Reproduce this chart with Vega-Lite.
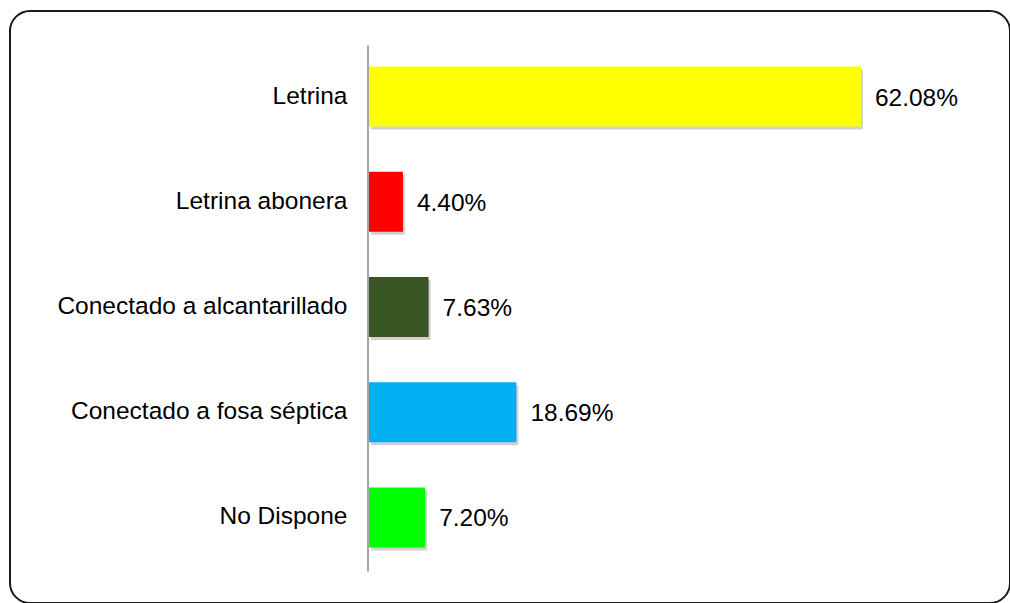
{
  "$schema": "https://vega.github.io/schema/vega-lite/v6.json",
  "width": 1000,
  "height": 592,
  "padding": {"left": 10, "top": 11, "right": 0, "bottom": 0},
  "autosize": {"type": "none"},
  "background": "white",
  "config": {
    "view": {"stroke": "#1a1a1a", "strokeWidth": 2, "cornerRadius": 20},
    "font": "Liberation Sans"
  },
  "data": {
    "values": [
      {"categoria": "Letrina", "porcentaje": 62.08, "etiqueta": "62.08%"},
      {"categoria": "Letrina abonera", "porcentaje": 4.40, "etiqueta": "4.40%"},
      {"categoria": "Conectado a alcantarillado", "porcentaje": 7.63, "etiqueta": "7.63%"},
      {"categoria": "Conectado a fosa séptica", "porcentaje": 18.69, "etiqueta": "18.69%"},
      {"categoria": "No Dispone", "porcentaje": 7.20, "etiqueta": "7.20%"}
    ]
  },
  "encoding": {
    "y": {
      "field": "categoria",
      "type": "nominal",
      "sort": null,
      "scale": {"paddingInner": 0.43, "paddingOuter": 0.5275, "align": 0.5},
      "axis": {
        "title": null,
        "offset": -358,
        "domain": false,
        "ticks": false,
        "labelPadding": 21,
        "labelFontSize": 24.5,
        "labelColor": "#000000",
        "labelFont": "Liberation Sans",
        "labelLimit": 400
      }
    }
  },
  "layer": [
    {
      "mark": {"type": "bar", "color": "#000000", "opacity": 0.18, "xOffset": 2, "x2Offset": 3, "yOffset": 3, "y2Offset": 4},
      "encoding": {
        "x": {"field": "porcentaje", "type": "quantitative", "scale": {"domain": [-45.09, 80.86], "nice": false, "zero": false}, "axis": null},
        "x2": {"datum": 0}
      }
    },
    {
      "mark": {"type": "bar"},
      "encoding": {
        "x": {"field": "porcentaje", "type": "quantitative"},
        "x2": {"datum": 0},
        "color": {
          "field": "categoria",
          "type": "nominal",
          "legend": null,
          "scale": {
            "domain": ["Letrina", "Letrina abonera", "Conectado a alcantarillado", "Conectado a fosa séptica", "No Dispone"],
            "range": ["#FFFF00", "#FF0000", "#375623", "#00B0F0", "#00FF00"]
          }
        }
      }
    },
    {
      "data": {"values": [{"desde": "Letrina", "hasta": "No Dispone"}]},
      "mark": {"type": "rule", "color": "#A6A6A6", "strokeWidth": 2, "yOffset": -51, "y2Offset": 54},
      "encoding": {
        "x": {"datum": 0, "type": "quantitative"},
        "y": {"field": "desde", "type": "nominal"},
        "y2": {"field": "hasta"}
      }
    },
    {
      "mark": {"type": "text", "align": "left", "baseline": "middle", "dx": 14, "dy": 2, "fontSize": 24.5, "color": "#000000", "font": "Liberation Sans"},
      "encoding": {
        "x": {"field": "porcentaje", "type": "quantitative"},
        "text": {"field": "etiqueta"}
      }
    }
  ]
}
